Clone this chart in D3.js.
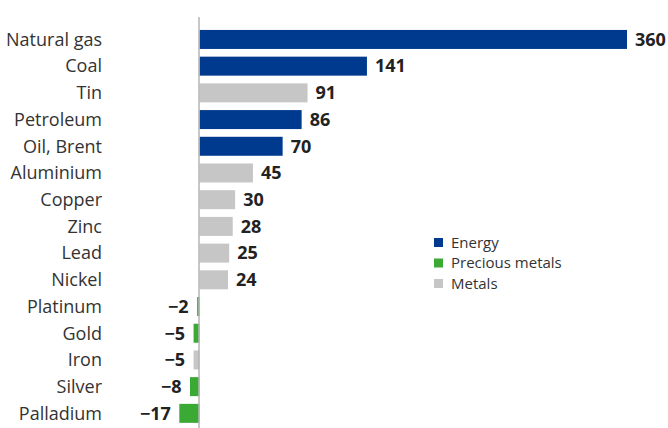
<!DOCTYPE html>
<html><head><meta charset="utf-8">
<script src="https://cdn.jsdelivr.net/npm/d3@7"></script>
<style>body{margin:0;background:#fff}svg{display:block}text{font-family:"Open Sans","Noto Sans",sans-serif}</style>
</head><body><svg id="c" width="668" height="428"></svg>
<script>
const categories = ["Natural gas","Coal","Tin","Petroleum","Oil, Brent","Aluminium","Copper","Zinc","Lead","Nickel","Platinum","Gold","Iron","Silver","Palladium"];
const values = [360,141,91,86,70,45,30,28,25,24,-2,-5,-5,-8,-17];
const groups = ["Energy","Energy","Metals","Energy","Energy","Metals","Metals","Metals","Metals","Metals","Precious metals","Precious metals","Metals","Precious metals","Precious metals"];
const legendItems = ["Energy","Precious metals","Metals"];
const colors = {"Energy":"#003a8f","Precious metals":"#3aaa35","Metals":"#c6c6c6"};

const svg = d3.select("#c");
const x = d3.scaleLinear().domain([0,360]).range([199.5,627]);
const y = d3.scaleBand().domain(categories).range([16.6,436.2]).paddingInner(0.289).paddingOuter(0.5);

svg.append("g").selectAll("rect").data(categories).join("rect")
  .attr("x",(d,i)=>Math.min(x(0),x(values[i])))
  .attr("width",(d,i)=>Math.abs(x(values[i])-x(0)))
  .attr("y",d=>y(d)).attr("height",y.bandwidth())
  .attr("fill",(d,i)=>colors[groups[i]]);

svg.append("line").attr("x1",199).attr("x2",199).attr("y1",17).attr("y2",428)
  .attr("stroke","#b5b5b5").attr("stroke-width",1.5);

svg.append("g").selectAll("text").data(categories).join("text")
  .attr("x",102).attr("y",d=>y(d)+y.bandwidth()/2).attr("dy","0.35em")
  .attr("text-anchor","end").attr("font-size",18).attr("fill","#333")
  .text(d=>d);

const fmt = v => v<0 ? "\u2212"+Math.abs(v) : String(v);
svg.append("g").selectAll("text").data(categories).join("text")
  .attr("x",(d,i)=>values[i]>=0 ? x(values[i])+8 : x(values[i])-8.5)
  .attr("y",d=>y(d)+y.bandwidth()/2).attr("dy","0.35em")
  .attr("text-anchor",(d,i)=>values[i]>=0?"start":"end")
  .attr("font-size",18).attr("font-weight","bold").attr("fill","#222")
  .text((d,i)=>fmt(values[i]));

const lg = svg.append("g").attr("transform","translate(434,238)");
legendItems.forEach((k,i)=>{
  const g = lg.append("g").attr("transform",`translate(0,${i*20.5})`);
  g.append("rect").attr("width",9).attr("height",9).attr("fill",colors[k]);
  g.append("text").attr("x",17).attr("y",4.5).attr("dy","0.35em").attr("font-size",15).attr("fill","#333").text(k);
});
</script></body></html>
